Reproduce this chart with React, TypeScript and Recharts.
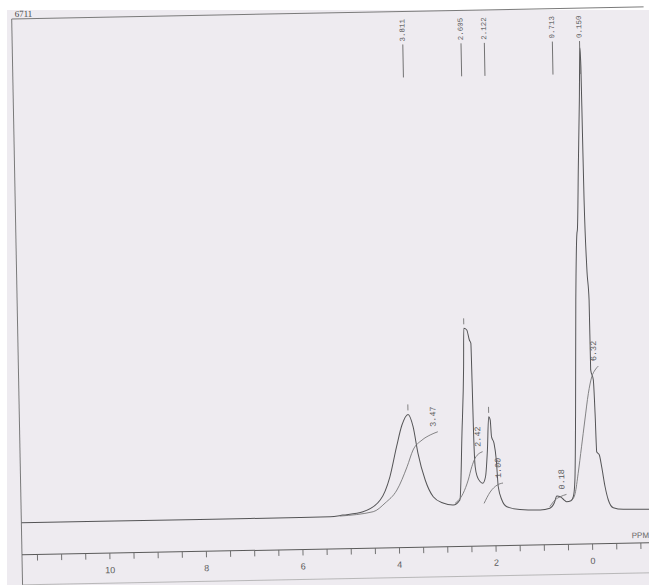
import React from 'react';
import { ComposedChart, Line, XAxis, YAxis, ReferenceDot } from 'recharts';

// ---------- data ----------
// chemical shift (ppm) and signal height of the recorded trace
const SPECTRUM_PPM = [
  11.82, 10.18, 8.12, 6.05, 5.42, 5.16, 4.74, 4.38, 4.17, 4.02, 3.9, 3.77, 3.67, 3.58, 3.44, 3.28, 3.08,
  2.87, 2.73, 2.66, 2.6, 2.58, 2.52, 2.47, 2.44, 2.43, 2.42, 2.4, 2.36, 2.3, 2.25, 2.19, 2.14, 2.1, 2.07,
  2.05, 2.0, 1.96, 1.93, 1.86, 1.76, 1.49, 1.07, 0.87, 0.78, 0.72, 0.65, 0.57, 0.52, 0.43, 0.38, 0.34,
  0.3, 0.25, 0.2, 0.19, 0.145, 0.097, 0.064, 0.052, 0.046, 0.039, 0.01, -0.025, -0.03, -0.081, -0.104,
  -0.122, -0.176, -0.219, -0.282, -0.344, -0.443, -0.65, -1.27,
];
const SPECTRUM_INTENSITY = [
  0, 0, 0, 0, 0.2, 1.6, 4.6, 15.9, 39, 69, 90.5, 101, 88.6, 62.2, 35.1, 18.2, 11.7,
  9.5, 14.4, 81.4, 147.6, 186, 184.3, 174.2, 170.9, 130.9, 80.8, 47.4, 37.4, 32.3, 30.7, 37.2, 63.9, 97.1, 93.8,
  77.1, 70.4, 53.7, 26.9, 13.6, 6.8, 3.9, 2.9, 4.4, 9.3, 16.5, 15.8, 12.4, 10.6, 11.6, 15.5, 32.2,
  98.9, 212, 279, 282, 345, 412, 464, 445, 379, 312, 245, 212, 142, 132, 98.5,
  60.1, 56.7, 45, 24.9, 11.6, 3.8, 2, 1.5,
];

// integral traces
const INTEGRAL_LABELS = ['3.47', '2.42', '1.00', '0.18', '6.32'];
const INTEGRAL_PPM = [
  [5.22, 4.53, 4.28, 4.03, 3.81, 3.68, 3.49, 3.32, 3.16],
  [2.83, 2.66, 2.55, 2.47, 2.4, 2.31, 2.24],
  [2.23, 2.1, 1.95, 1.83],
  [0.87, 0.76, 0.65, 0.52],
  [0.41, 0.34, 0.27, 0.19, 0.11, 0.027, -0.05, -0.12, -0.19],
];
const INTEGRAL_VALUES = [
  [0.7, 4.4, 12.8, 25.6, 48.7, 65.3, 75.1, 80, 83.1],
  [11.2, 21, 34.2, 47.5, 55.8, 60.7, 62.3],
  [10.6, 21.8, 28.7, 30.6],
  [6, 12.6, 15.8, 18],
  [12.3, 18.9, 38.8, 65.3, 92, 118.6, 135.1, 141.8, 145.7],
];

// peak-pick labels printed along the top
const PEAK_LABELS = ['3.811', '2.605', '2.122', '0.713', '0.150'];
// small peak-pick marks above maxima
const PEAK_MARK_PPM = [3.77, 2.58, 2.1];
const PEAK_MARK_HEIGHT = [101, 186, 97];

// axis ticks
const PPM_TICKS = [11.5, 11, 10.5, 10, 9.5, 9, 8.5, 8, 7.5, 7, 6.5, 6, 5.5, 5, 4.5, 4, 3.5, 3, 2.5, 2, 1.5, 1, 0.5, 0, -0.5, -1];
const TICK_LABELS = ['10', '8', '6', '4', '2', '0'];

// ---------- derived tables ----------
const spectrumData = SPECTRUM_PPM.map((p, i) => ({ ppm: p, v: SPECTRUM_INTENSITY[i] }));
const integralData = INTEGRAL_PPM.map((arr, k) => arr.map((p, i) => ({ ppm: p, v: INTEGRAL_VALUES[k][i] })));

const PAPER = '#eeebf0';
const INK = '#545456';
const MONO = '"Liberation Mono", "DejaVu Sans Mono", monospace';
const SANS = '"Liberation Sans", Arial, sans-serif';

const LABEL_SHIFT = 0.08; // printed peak labels sit slightly right of the scale
const LABEL_LINE_TOP = 471;

const renderTick = (props: any) => {
  const { x, y, payload } = props;
  const label = String(payload.value);
  if (!TICK_LABELS.includes(label)) return <g />;
  return (
    <text x={x} y={y} dy={12} textAnchor="middle" fontSize={9} fontFamily={SANS} fill="#5a5a5a">
      {label}
    </text>
  );
};

const peakLabelShape = (text: string) => (p: any) => {
  const { cx, cy } = p;
  return (
    <g>
      <line x1={cx} y1={cy} x2={cx} y2={cy + 33} stroke="#666" strokeWidth={0.9} />
      <text
        x={cx}
        y={cy - 3}
        transform={`rotate(-90, ${cx}, ${cy - 3})`}
        textAnchor="start"
        dominantBaseline="central"
        fontSize={7.5}
        fontFamily={MONO}
        fill="#5a5a5c"
      >
        {text}
      </text>
    </g>
  );
};

const integralLabelShape = (text: string) => (p: any) => {
  const { cx, cy } = p;
  const x = cx - 4;
  const y = cy - 5;
  return (
    <text
      x={x}
      y={y}
      transform={`rotate(-90, ${x}, ${y})`}
      textAnchor="start"
      dominantBaseline="central"
      fontSize={8.5}
      fontFamily={MONO}
      fill="#5a5a5c"
    >
      {text}
    </text>
  );
};

const peakMarkShape = (p: any) => {
  const { cx, cy } = p;
  return <line x1={cx} y1={cy - 4} x2={cx} y2={cy - 10} stroke="#777" strokeWidth={0.9} />;
};

export default function App() {
  return (
    <div style={{ position: 'fixed', left: 0, top: 0, width: 649, height: 585, overflow: 'hidden', background: '#ffffff' }}>
      <div style={{ position: 'absolute', left: 7, top: 10, right: 0, bottom: 0, background: PAPER }} />
      <div
        style={{
          position: 'absolute',
          left: 0,
          top: 0,
          width: 649,
          height: 585,
          transform: 'rotate(-1.1deg)',
          transformOrigin: '324.5px 292.5px',
        }}
      >
        <svg width={649} height={600} style={{ position: 'absolute', left: 0, top: 0 }}>
          <line x1={17} y1={13} x2={700} y2={13} stroke="#7a7a7a" strokeWidth={1} />
          <line x1={17} y1={13} x2={17} y2={600} stroke="#7a7a7a" strokeWidth={1} />
          <line x1={17} y1={579} x2={700} y2={579} stroke="#aaa" strokeWidth={0.8} />
          <text x={20} y={11} fontSize={9} fontFamily='"Liberation Serif", serif' fill="#444">
            6711
          </text>
          <text x={627} y={544} fontSize={8} fontFamily={SANS} fill="#666">
            PPM
          </text>
        </svg>
        <div style={{ position: 'absolute', left: 0, top: 0 }}>
          <ComposedChart width={649} height={585} margin={{ top: 16, right: 0, bottom: 6, left: 17 }}>
            <XAxis
              dataKey="ppm"
              type="number"
              domain={[-1.27, 11.82]}
              reversed
              allowDataOverflow
              ticks={PPM_TICKS}
              interval={0}
              tick={renderTick}
              tickSize={6}
              height={30}
              stroke="#555"
              axisLine={{ stroke: '#5a5a5a', strokeWidth: 1 }}
              tickLine={{ stroke: '#666', strokeWidth: 0.9 }}
            />
            <YAxis hide type="number" domain={[-32, 501]} allowDataOverflow />
            <Line
              data={spectrumData}
              dataKey="v"
              type="monotone"
              stroke={INK}
              strokeWidth={1}
              dot={false}
              activeDot={false}
              isAnimationActive={false}
            />
            {integralData.map((d, k) => (
              <Line
                key={INTEGRAL_LABELS[k]}
                data={d}
                dataKey="v"
                type="monotone"
                stroke="#707072"
                strokeWidth={0.85}
                dot={false}
                activeDot={false}
                isAnimationActive={false}
              />
            ))}
            {INTEGRAL_LABELS.map((lab, k) => {
              const n = INTEGRAL_PPM[k].length - 1;
              return (
                <ReferenceDot
                  key={'il' + lab}
                  x={INTEGRAL_PPM[k][n]}
                  y={INTEGRAL_VALUES[k][n]}
                  r={1}
                  shape={integralLabelShape(lab)}
                />
              );
            })}
            {PEAK_LABELS.map((lab) => (
              <ReferenceDot
                key={'pl' + lab}
                x={parseFloat(lab) - LABEL_SHIFT}
                y={LABEL_LINE_TOP}
                r={1}
                shape={peakLabelShape(lab)}
              />
            ))}
            {PEAK_MARK_PPM.map((p, i) => (
              <ReferenceDot key={'pm' + i} x={p} y={PEAK_MARK_HEIGHT[i]} r={1} shape={peakMarkShape} />
            ))}
          </ComposedChart>
        </div>
      </div>
    </div>
  );
}
